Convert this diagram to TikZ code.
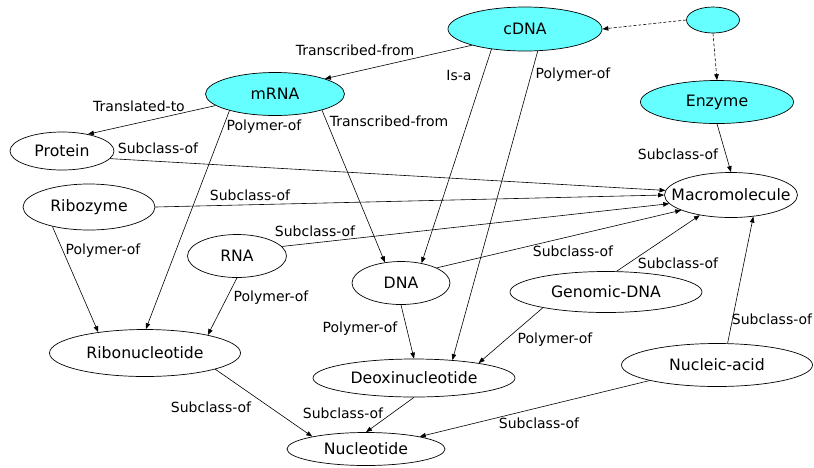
\documentclass[tikz,border=0pt]{standalone}
\usepackage{fontspec}
\setmainfont{DejaVu Sans}
\usetikzlibrary{arrows.meta,shapes.geometric}
\definecolor{nodecyan}{RGB}{102,255,255}
\newcommand{\nb}[1]{\makebox[0pt]{#1}}
\tikzset{
  ell/.style={ellipse, draw, line width=0.7pt, inner sep=0pt, font=\fontsize{15.7}{18}\selectfont},
  cy/.style={ell, fill=nodecyan},
  rel/.style={draw, line width=0.6pt, -{Triangle[length=6pt,width=4.5pt]}},
  dashrel/.style={rel, dash pattern=on 3pt off 2pt},
  lab/.style={inner sep=0pt, font=\fontsize{14}{16}\selectfont}
}
\begin{document}
\begin{tikzpicture}[x=1pt,y=-1pt]
\useasboundingbox (0,0) rectangle (814,467);
% nodes
\node[cy, minimum width=154, minimum height=44] (cDNA) at (525,29) {\nb{cDNA}};
\node[cy, minimum width=53, minimum height=26] (small) at (713,20) {};
\node[cy, minimum width=153, minimum height=43] (Enzyme) at (717,102) {\nb{Enzyme}};
\node[cy, minimum width=139, minimum height=43] (mRNA) at (275,94) {\nb{mRNA}};
\node[ell, minimum width=104, minimum height=38] (Protein) at (62,151) {\nb{Protein}};
\node[ell, minimum width=132, minimum height=46] (Ribozyme) at (89,207) {\nb{Ribozyme}};
\node[ell, minimum width=133, minimum height=45] (Macro) at (731,195) {\nb{Macromolecule}};
\node[ell, minimum width=99, minimum height=43] (RNA) at (237,256) {\nb{RNA}};
\node[ell, minimum width=98, minimum height=43] (DNA) at (401,283) {\nb{DNA}};
\node[ell, minimum width=192, minimum height=41] (Genomic) at (606,292) {\nb{Genomic-DNA}};
\node[ell, minimum width=191, minimum height=47] (Ribonuc) at (145,353) {\nb{Ribonucleotide}};
\node[ell, minimum width=202, minimum height=38] (Deoxi) at (414,378) {\nb{Deoxinucleotide}};
\node[ell, minimum width=158, minimum height=33] (Nucleotide) at (366,449) {\nb{Nucleotide}};
\node[ell, minimum width=191, minimum height=43] (Nucleic) at (717,365) {\nb{Nucleic-acid}};
% connectors
\draw[dashrel] (small.west) -- (cDNA.east);
\draw[dashrel] (small.south) -- (Enzyme.north);
\draw[rel] (cDNA.197) -- (mRNA.17);
\draw[rel] (cDNA.211) -- (DNA.44);
\draw[rel] (cDNA.300) -- (Deoxi.25);
\draw[rel] (mRNA.191) -- (Protein.33);
\draw[rel] (mRNA.200) -- (Ribonuc.88);
\draw[rel] (mRNA.341) -- (DNA.128);
\draw[rel] (Protein.351) -- (Macro.176);
\draw[rel] (Ribozyme.east) -- (Macro.west);
\draw[rel] (RNA.12) -- (Macro.188);
\draw[rel] (DNA.23) -- (Macro.197);
\draw[rel] (Genomic.63) -- (Macro.213);
\draw[rel] (Enzyme.south) -- (Macro.north);
\draw[rel] (Nucleic.64) -- (Macro.316);
\draw[rel] (Ribozyme.208) -- (Ribonuc.156);
\draw[rel] (RNA.south) -- (Ribonuc.16);
\draw[rel] (DNA.south) -- (Deoxi.north);
\draw[rel] (Genomic.194) -- (Deoxi.13);
\draw[rel] (Ribonuc.347) -- (Nucleotide.167);
\draw[rel] (Deoxi.south) -- (Nucleotide.north);
\draw[rel] (Nucleic.193) -- (Nucleotide.13);
% labels
\node[lab] (l1) at (355,50) {Transcribed-from};
\node[lab] (l2) at (459,75) {Is-a};
\node[lab] (l3) at (573,75) {Polymer-of};
\node[lab] (l4) at (139,106) {Translated-to};
\node[lab] (l5) at (264,127) {Polymer-of};
\node[lab] (l6) at (389,121) {Transcribed-from};
\node[lab] (l7) at (158,148) {Subclass-of};
\node[lab] (l8) at (250,195) {Subclass-of};
\node[lab] (l9) at (315,231) {Subclass-of};
\node[lab] (l10) at (573,251) {Subclass-of};
\node[lab] (l11) at (678,263) {Subclass-of};
\node[lab] (l12) at (678,154) {Subclass-of};
\node[lab] (l13) at (772,319) {Subclass-of};
\node[lab] (l14) at (103,251) {Polymer-of};
\node[lab] (l15) at (271,298) {Polymer-of};
\node[lab] (l16) at (360,329) {Polymer-of};
\node[lab] (l17) at (555,340) {Polymer-of};
\node[lab] (l18) at (211,407) {Subclass-of};
\node[lab] (l19) at (343,413) {Subclass-of};
\node[lab] (l20) at (539,423) {Subclass-of};
\end{tikzpicture}
\end{document}
